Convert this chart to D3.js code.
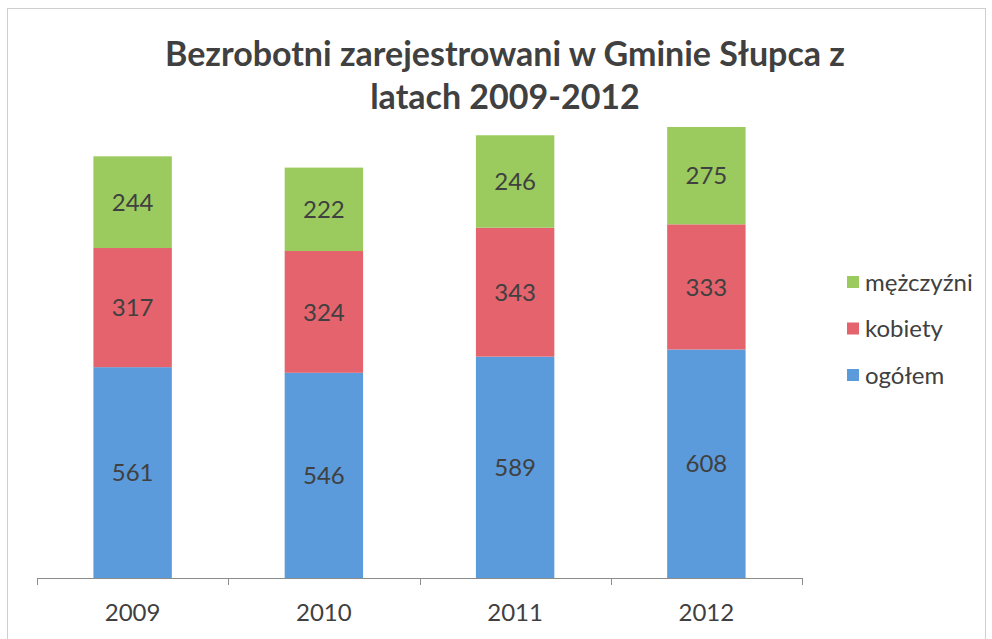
<!DOCTYPE html>
<html>
<head>
<meta charset="utf-8">
<script src="https://cdn.jsdelivr.net/npm/d3@7"></script>
<style>
  body { margin: 0; background: #fff; }
  text { font-family: Lato, "Open Sans", sans-serif; fill: #404040; }
</style>
</head>
<body>
<div id="chart"></div>
<script>
var years = ["2009", "2010", "2011", "2012"];
var seriesNames = ["ogółem", "kobiety", "mężczyźni"];
var ogolem = [561, 546, 589, 608];
var kobiety = [317, 324, 343, 333];
var mezczyzni = [244, 222, 246, 275];
var colors = ["#5b9bdb", "#e4636d", "#9bcb5e"];
var titleLines = ["Bezrobotni zarejestrowani w Gminie Słupca z", "latach 2009-2012"];

var width = 992, height = 639;
var plot = {left: 37, right: 802, top: 127, bottom: 578};

var svg = d3.select("#chart").append("svg")
    .attr("width", width)
    .attr("height", height);

// chart frame
svg.append("rect")
    .attr("x", 7.5).attr("y", 8.5)
    .attr("width", 978).attr("height", 640)
    .attr("fill", "none")
    .attr("stroke", "#cfcfcf");

// title
svg.selectAll(".title")
    .data(titleLines)
  .enter().append("text")
    .attr("class", "title")
    .attr("x", 505)
    .attr("y", function(d, i) { return 66 + i * 43; })
    .attr("text-anchor", "middle")
    .style("font-size", "34px")
    .style("font-weight", "bold")
    .text(function(d) { return d; });

var x = d3.scaleBand()
    .domain(years)
    .range([plot.left, plot.right])
    .paddingInner(0.59)
    .paddingOuter(0.295);

var y = d3.scaleLinear()
    .domain([0, 1200])
    .range([plot.bottom, plot.top]);

var table = years.map(function(yr, i) {
    return {year: yr, "ogółem": ogolem[i], "kobiety": kobiety[i], "mężczyźni": mezczyzni[i]};
});
var stacked = d3.stack().keys(seriesNames)(table);

svg.append("clipPath").attr("id", "plotClip")
  .append("rect")
    .attr("x", plot.left).attr("y", plot.top)
    .attr("width", plot.right - plot.left)
    .attr("height", plot.bottom - plot.top);

var layers = svg.append("g")
    .attr("clip-path", "url(#plotClip)")
  .selectAll("g")
    .data(stacked)
  .enter().append("g")
    .attr("fill", function(d, i) { return colors[i]; });

layers.selectAll("rect")
    .data(function(d) { return d; })
  .enter().append("rect")
    .attr("x", function(d) { return x(d.data.year); })
    .attr("width", x.bandwidth())
    .attr("y", function(d) { return y(d[1]); })
    .attr("height", function(d) { return y(d[0]) - y(d[1]); });

// data labels, centred in the visible part of each segment
stacked.forEach(function(layer) {
    svg.append("g").selectAll("text")
        .data(layer)
      .enter().append("text")
        .attr("x", function(d) { return x(d.data.year) + x.bandwidth() / 2; })
        .attr("y", function(d) {
            var top = Math.max(y(d[1]), plot.top);
            return (top + y(d[0])) / 2;
        })
        .attr("text-anchor", "middle")
        .attr("dy", "0.36em")
        .style("font-size", "24px")
        .text(function(d) { return d[1] - d[0]; });
});

// x axis: line with ticks on category boundaries
var axis = svg.append("g");
axis.append("line")
    .attr("x1", plot.left).attr("x2", plot.right)
    .attr("y1", plot.bottom + 0.5).attr("y2", plot.bottom + 0.5)
    .attr("stroke", "#8c8c8c");
var edges = d3.range(years.length + 1).map(function(i) { return plot.left + i * x.step(); });
axis.selectAll(".tick")
    .data(edges)
  .enter().append("line")
    .attr("x1", function(d) { return Math.round(d) + 0.5; })
    .attr("x2", function(d) { return Math.round(d) + 0.5; })
    .attr("y1", plot.bottom).attr("y2", plot.bottom + 7)
    .attr("stroke", "#8c8c8c");
axis.selectAll(".lbl")
    .data(years)
  .enter().append("text")
    .attr("x", function(d) { return x(d) + x.bandwidth() / 2; })
    .attr("y", 621)
    .attr("text-anchor", "middle")
    .style("font-size", "24px")
    .text(function(d) { return d; });

// legend (reverse order, top is mężczyźni)
var legendItems = seriesNames.map(function(n, i) { return {name: n, color: colors[i]}; }).reverse();
var legend = svg.append("g").selectAll("g")
    .data(legendItems)
  .enter().append("g")
    .attr("transform", function(d, i) { return "translate(847," + (282 + i * 46.5) + ")"; });
legend.append("rect")
    .attr("x", 0).attr("y", -6)
    .attr("width", 12).attr("height", 12)
    .attr("fill", function(d) { return d.color; });
legend.append("text")
    .attr("x", 18)
    .attr("dy", "0.36em")
    .style("font-size", "24px")
    .text(function(d) { return d.name; });
</script>
</body>
</html>
